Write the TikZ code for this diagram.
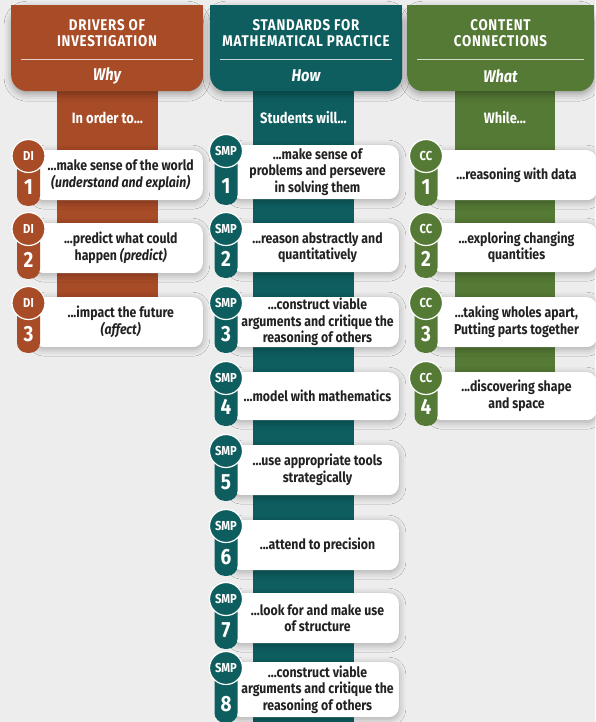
\documentclass[tikz,border=0pt]{standalone}
\usepackage{fontspec}
\setmainfont{Fira Sans}[FakeStretch=0.86]
\usetikzlibrary{shadows.blur}

\definecolor{dicol}{HTML}{A84B27}
\definecolor{smpcol}{HTML}{0E5E60}
\definecolor{cccol}{HTML}{557A35}
\definecolor{bgcol}{HTML}{EDEDED}
\definecolor{inkcol}{HTML}{222222}

\tikzset{
  header/.style={rounded corners=16pt, inner sep=0pt,
    blur shadow={shadow xshift=0pt, shadow yshift=-3pt, shadow blur radius=7pt, shadow opacity=35}},
  titletext/.style={text=white, align=center, inner sep=0pt,
    font=\bfseries\fontsize{15.5}{16}\selectfont\addfontfeatures{LetterSpace=5}},
  subtext/.style={text=white, inner sep=0pt, font=\bfseries\itshape\fontsize{17}{19}\selectfont},
  stemtext/.style={text=white, inner sep=0pt, font=\bfseries\fontsize{15}{17}\selectfont},
  card/.style={fill=white, rounded corners=10pt, inner sep=0pt,
    blur shadow={shadow xshift=0pt, shadow yshift=-2pt, shadow blur radius=7pt, shadow opacity=30}},
  itemtext/.style={text=inkcol, align=center, inner sep=0pt,
    font=\bfseries\fontsize{14.3}{16.5}\selectfont},
  tab/.style={rounded corners=10pt, minimum width=23pt, inner sep=0pt},
  badge/.style={circle, draw=white, line width=1.2pt, minimum size=33pt, inner sep=0pt,
    text=white, font=\bfseries\fontsize{13}{14}\selectfont},
  numtext/.style={text=white, inner sep=0pt, font=\bfseries\fontsize{22}{24}\selectfont},
}

% #1 name, #2 colour, #3 abbreviation, #4 number, #5 badge x,
% #6 card top, #7 card bottom, #8 card right, #9 text
\newcommand\badgeitem[9]{%
  \pgfmathsetmacro\cardw{#8-#5-6}%
  \pgfmathsetmacro\cardh{#7-#6}%
  \pgfmathsetmacro\textx{(#5+#8)/2+5}%
  \pgfmathsetmacro\texty{(#6+#7)/2}%
  \node[card, minimum width=\cardw pt, minimum height=\cardh pt, anchor=north east] (#1) at (#8,#6) {};
  \node[itemtext] (#1-text) at (\textx,\texty) {#9};
  \node[tab, fill=#2, minimum height=\cardh pt, anchor=south] (#1-tab) at (#5,#7+6) {};
  \node[badge, fill=#2] (#1-badge) at (#5,#6+6) {#3};
  \node[numtext] (#1-num) at (#5,#7-13) {#4};
}

% #1 name, #2 colour, #3 left, #4 right, #5 title, #6 subtitle
\newcommand\colheader[6]{%
  \pgfmathsetmacro\hw{#4-#3}%
  \pgfmathsetmacro\hx{(#3+#4)/2}%
  \node[header, fill=#2, minimum width=\hw pt, minimum height=86pt, anchor=north west] (#1) at (#3,5) {};
  \fill[#2] (#3,5) rectangle (#4,40);
  \node[titletext] (#1-title) at (\hx,33) {#5};
  \draw[white, opacity=0.75, line width=0.8pt] (#3+10,59) -- (#4-10,59);
  \node[subtext] (#1-sub) at (\hx,76) {#6};
}

\begin{document}
\begin{tikzpicture}[x=1pt, y=-1pt]
  \useasboundingbox (0,0) rectangle (595,722);
  \fill[bgcol] (0,0) rectangle (595,722);

  % vertical stems behind the cards
  \fill[dicol]  (57,80)  rectangle (158,340);
  \fill[smpcol] (253,80) rectangle (354,722);
  \fill[cccol]  (455,80) rectangle (555,412);

  % column headers
  \colheader{hdi}{dicol}{11}{203}{DRIVERS OF\\INVESTIGATION}{Why}
  \colheader{hsmp}{smpcol}{210}{402}{STANDARDS FOR\\MATHEMATICAL PRACTICE}{How}
  \colheader{hcc}{cccol}{407}{594}{CONTENT\\CONNECTIONS}{What}

  \node[stemtext] (sdi)  at (107.5,118) {In order to...};
  \node[stemtext] (ssmp) at (303.5,118) {Students will...};
  \node[stemtext] (scc)  at (505,118)   {While...};

  % drivers of investigation
  \badgeitem{di1}{dicol}{DI}{1}{28.5}{150}{200}{203}{...make sense of the world\\\textit{(understand and explain)}}
  \badgeitem{di2}{dicol}{DI}{2}{28.5}{223}{273}{203}{...predict what could\\happen \textit{(predict)}}
  \badgeitem{di3}{dicol}{DI}{3}{28.5}{297}{347}{203}{...impact the future\\\textit{(affect)}}

  % standards for mathematical practice
  \badgeitem{smp1}{smpcol}{SMP}{1}{226}{145}{199}{399}{...make sense of\\problems and persevere\\in solving them}
  \badgeitem{smp2}{smpcol}{SMP}{2}{226}{223}{272}{399}{...reason abstractly and\\quantitatively}
  \badgeitem{smp3}{smpcol}{SMP}{3}{226}{297}{347}{399}{...construct viable\\arguments and critique the\\reasoning of others}
  \badgeitem{smp4}{smpcol}{SMP}{4}{226}{372}{420}{399}{...model with mathematics}
  \badgeitem{smp5}{smpcol}{SMP}{5}{226}{445}{495}{399}{...use appropriate tools\\strategically}
  \badgeitem{smp6}{smpcol}{SMP}{6}{226}{520}{570}{399}{...attend to precision}
  \badgeitem{smp7}{smpcol}{SMP}{7}{226}{593}{643}{399}{...look for and make use\\of structure}
  \badgeitem{smp8}{smpcol}{SMP}{8}{226}{662}{717}{399}{...construct viable\\arguments and critique the\\reasoning of others}

  % content connections
  \badgeitem{cc1}{cccol}{CC}{1}{426}{150}{200}{597}{...reasoning with data}
  \badgeitem{cc2}{cccol}{CC}{2}{426}{223}{272}{597}{...exploring changing\\quantities}
  \badgeitem{cc3}{cccol}{CC}{3}{426}{297}{347}{597}{...taking wholes apart,\\Putting parts together}
  \badgeitem{cc4}{cccol}{CC}{4}{426}{372}{420}{597}{...discovering shape\\and space}
\end{tikzpicture}
\end{document}
